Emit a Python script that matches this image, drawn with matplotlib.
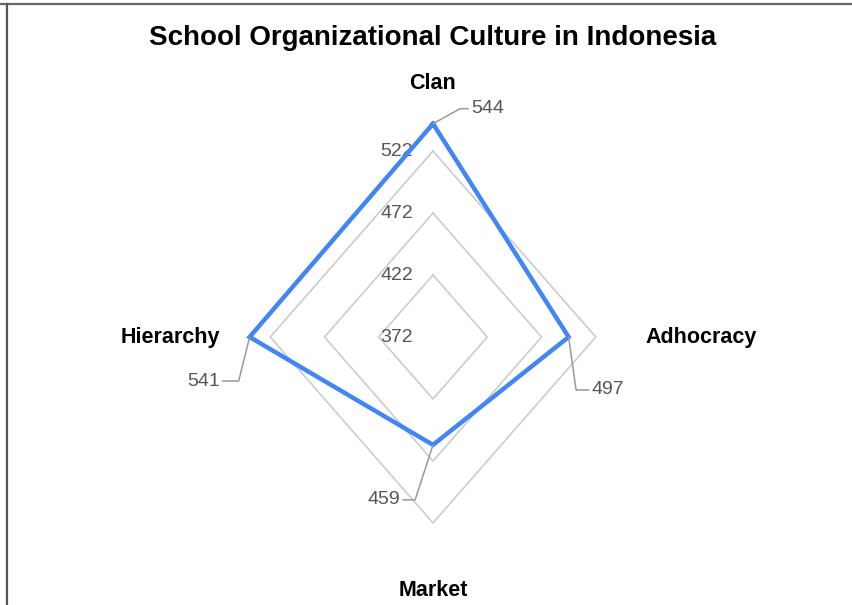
import numpy as np
import matplotlib.pyplot as plt
from matplotlib.lines import Line2D

plt.rcParams['font.family'] = ['Liberation Sans', 'DejaVu Sans']

title = 'School Organizational Culture in Indonesia'
categories = ['Clan', 'Adhocracy', 'Market', 'Hierarchy']
values = [544, 497, 459, 541]
grid_levels = [422, 472, 522]
tick_labels = ['372', '422', '472', '522']
r_min = 372
r_max = 572

# leader label offsets (pixels) and alignment
label_offsets = [(38, 15), (23, -53), (-33, -55), (-30, -44)]
label_align = ['left', 'left', 'right', 'right']
leader_angle = [29, -82, 72, 76]

W, H = 852, 605
fig = plt.figure(figsize=(W / 100, H / 100), dpi=100)

cx, cy = 433, 337
sx, sy = 1.085, 1.24
half_w = (r_max - r_min) * sx
half_h = (r_max - r_min) * sy
ax = fig.add_axes([(cx - half_w) / W, (H - cy - half_h) / H, 2 * half_w / W, 2 * half_h / H],
                  projection='polar')
ax.set_aspect('auto')
ax.set_theta_zero_location('N')
ax.set_theta_direction(-1)
ax.set_ylim(r_min, r_max)
ax.set_xticks([])
ax.set_yticks([])
ax.grid(False)
ax.spines['polar'].set_visible(False)

angles = np.linspace(0, 2 * np.pi, len(categories), endpoint=False)
closed = np.append(angles, angles[0])

for lvl in grid_levels:
    ax.plot(closed, [lvl] * len(closed), color='#cccccc', lw=1.2, zorder=1)

for lvl, txt in zip([r_min] + grid_levels, tick_labels):
    ax.annotate(txt, xy=(0, lvl), xytext=(-20, 0), textcoords='offset pixels',
                ha='right', va='center', fontsize=14, color='#555555')

ax.plot(closed, values + values[:1], color='#4285f4', lw=3.2, zorder=3,
        solid_joinstyle='miter')

for a, v, off, ha, ang in zip(angles, values, label_offsets, label_align, leader_angle):
    ax.annotate(str(v), xy=(a, v), xytext=off, textcoords='offset pixels',
                ha=ha, va='center', fontsize=14, color='#555555',
                arrowprops=dict(arrowstyle='-', color='#999999', lw=1.1,
                                shrinkA=0, shrinkB=0,
                                relpos=(0, 0.5) if ha == 'left' else (1, 0.5),
                                connectionstyle=f'angle,angleA=0,angleB={ang},rad=0'))

label_r = 568
cat_align = [('center', 'bottom'), ('left', 'center'), ('center', 'top'), ('right', 'center')]
for a, name, (ha, va) in zip(angles, categories, cat_align):
    ax.text(a, label_r, name, ha=ha, va=va, fontsize=15.5, fontweight='bold',
            color='#000000', clip_on=False)

fig.text(cx / W, 1 - 38 / H, title, ha='center', va='center',
         fontsize=20, fontweight='bold', color='#000000')

# frame lines at top and left of the image
fig.add_artist(Line2D([0, 1], [1 - 3.5 / H, 1 - 3.5 / H], transform=fig.transFigure,
                      color='#666666', lw=1.6))
fig.add_artist(Line2D([6.5 / W, 6.5 / W], [0, 1 - 3.5 / H], transform=fig.transFigure,
                      color='#555555', lw=1.6))

fig.savefig('out.png', dpi=100)
